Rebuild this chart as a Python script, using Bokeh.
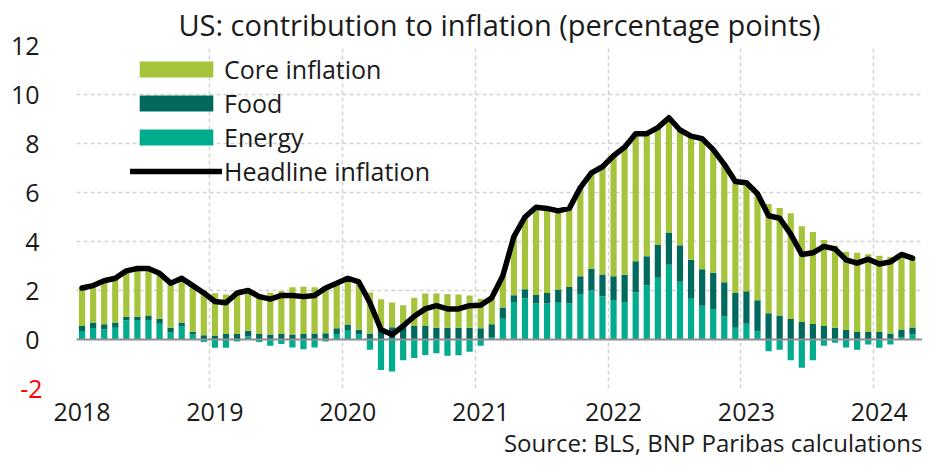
import numpy as np
from bokeh.plotting import figure
from bokeh.models import FixedTicker, Legend, LegendItem, Span, Range1d, LinearAxis, Title
from bokeh.embed import file_html
from bokeh.resources import INLINE

# ---------------- data ----------------
years = ["2018", "2019", "2020", "2021", "2022", "2023", "2024"]
y_ticks = [-2, 0, 2, 4, 6, 8, 10, 12]

energy = [0.35, 0.47, 0.41, 0.48, 0.79, 0.80, 0.80, 0.64, 0.29, 0.55, 0.20, -0.10,
          -0.34, -0.34, -0.08, 0.12, -0.10, -0.26, -0.18, -0.33, -0.40, -0.33, -0.08, 0.22,
          0.39, 0.20, -0.42, -1.24, -1.31, -0.85, -0.75, -0.63, -0.56, -0.66, -0.64, -0.50,
          -0.26, 0.10, 0.85, 1.53, 1.68, 1.47, 1.47, 1.53, 1.47, 1.86, 2.00, 1.77,
          1.61, 1.53, 1.93, 2.20, 2.52, 3.05, 2.36, 1.69, 1.38, 1.25, 0.94, 0.48,
          0.64, 0.33, -0.48, -0.42, -0.85, -1.15, -0.85, -0.26, -0.13, -0.33, -0.42, -0.20,
          -0.34, -0.20, 0.10, 0.20]

food = [0.20, 0.22, 0.21, 0.21, 0.13, 0.13, 0.18, 0.21, 0.19, 0.14, 0.12, 0.17,
        0.16, 0.22, 0.22, 0.24, 0.22, 0.20, 0.22, 0.20, 0.22, 0.24, 0.26, 0.24,
        0.22, 0.20, 0.24, 0.46, 0.50, 0.55, 0.55, 0.55, 0.48, 0.48, 0.48, 0.48,
        0.46, 0.52, 0.46, 0.28, 0.37, 0.35, 0.43, 0.51, 0.67, 0.72, 0.88, 0.88,
        0.97, 1.11, 1.26, 1.20, 1.34, 1.32, 1.49, 1.57, 1.49, 1.47, 1.40, 1.42,
        1.33, 1.27, 1.07, 0.98, 0.84, 0.71, 0.63, 0.55, 0.48, 0.39, 0.31, 0.31,
        0.31, 0.24, 0.29, 0.29]

core = [1.55, 1.51, 1.78, 1.81, 1.88, 1.97, 1.92, 1.85, 1.82, 1.81, 1.88, 1.83,
        1.73, 1.62, 1.76, 1.64, 1.63, 1.71, 1.76, 1.93, 1.93, 1.89, 1.92, 1.84,
        1.89, 1.95, 1.68, 1.18, 1.01, 0.85, 1.15, 1.33, 1.40, 1.38, 1.36, 1.32,
        1.20, 1.08, 1.29, 2.39, 2.95, 3.58, 3.45, 3.21, 3.21, 3.62, 3.92, 4.40,
        4.92, 5.21, 5.21, 5.00, 4.79, 4.68, 4.70, 5.04, 5.33, 5.03, 4.81, 4.55,
        4.43, 4.35, 4.46, 4.39, 4.31, 3.91, 3.76, 3.51, 3.35, 3.19, 3.23, 3.17,
        3.11, 3.13, 3.08, 2.83]

headline = [2.1, 2.2, 2.4, 2.5, 2.8, 2.9, 2.9, 2.7, 2.3, 2.5, 2.2, 1.9,
            1.55, 1.5, 1.9, 2.0, 1.75, 1.65, 1.8, 1.8, 1.75, 1.8, 2.1, 2.3,
            2.5, 2.35, 1.5, 0.4, 0.2, 0.55, 0.95, 1.25, 1.38, 1.25, 1.25, 1.38,
            1.4, 1.7, 2.6, 4.2, 5.0, 5.4, 5.35, 5.25, 5.35, 6.2, 6.8, 7.05,
            7.5, 7.85, 8.4, 8.4, 8.65, 9.05, 8.55, 8.3, 8.2, 7.75, 7.15, 6.45,
            6.4, 5.95, 5.05, 4.95, 4.3, 3.47, 3.54, 3.8, 3.7, 3.25, 3.12, 3.28,
            3.08, 3.17, 3.47, 3.32]

# ---------------- style ----------------
FONT = "Open Sans"
C_CORE = "#A5C33B"
C_FOOD = "#00695E"
C_ENERGY = "#00AB8E"
TXT = "#1a1a1a"
TICK_FS = "25px"

n = len(headline)
x = np.arange(n)
e = np.array(energy)
f = np.array(food)
c = np.array(core)
base = np.maximum(e, 0)
f_top = base + f
c_top = f_top + c

x_end = n - 0.1
p = figure(width=922, height=458, output_backend="svg", toolbar_location=None,
           x_range=Range1d(-0.5, x_end), y_range=Range1d(y_ticks[0], y_ticks[-1]),
           min_border_left=76, min_border_right=0, min_border_top=42, min_border_bottom=10)
p.outline_line_color = None
p.background_fill_color = "white"

p.title.text = "US: contribution to inflation (percentage points)"
p.title.text_font = FONT
p.title.text_font_size = "29px"
p.title.text_font_style = "normal"
p.title.text_color = TXT
p.title.align = "center"
p.title.standoff = 4

bw = 0.56
r_energy = p.vbar(x=x, bottom=0, top=e, width=bw, fill_color=C_ENERGY, line_color=None)
r_food = p.vbar(x=x, bottom=base, top=f_top, width=bw, fill_color=C_FOOD, line_color=None)
r_core = p.vbar(x=x, bottom=f_top, top=c_top, width=bw, fill_color=C_CORE, line_color=None)
r_line = p.line(x=x, y=headline, line_color="black", line_width=5.5, line_join="round", line_cap="round")

p.add_layout(Span(location=0, dimension="width", line_color="#8f8f8f", line_width=2))

# grids
p.ygrid.ticker = FixedTicker(ticks=y_ticks)
p.xgrid.ticker = FixedTicker(ticks=[12 * k - 0.5 for k in range(len(years))])
for g in (p.xgrid, p.ygrid):
    g.grid_line_color = "#d2d2d2"
    g.grid_line_dash = "4 3"
    g.grid_line_width = 1.5


def style_axis(ax, color=TXT):
    ax.axis_line_color = None
    ax.major_tick_line_color = None
    ax.minor_tick_line_color = None
    ax.major_tick_out = 0
    ax.major_tick_in = 0
    ax.minor_tick_out = 0
    ax.minor_tick_in = 0
    ax.major_label_text_font = FONT
    ax.major_label_text_font_size = TICK_FS
    ax.major_label_text_color = color


# inner left axis: the red negative tick label
p.yaxis.ticker = FixedTicker(ticks=y_ticks[:1])
p.yaxis.major_label_overrides = {y_ticks[0]: "-" + str(abs(y_ticks[0]))}
style_axis(p.yaxis[0], "red")
p.yaxis.major_label_standoff = 34

# outer left axis: black labels, pulled back to the same alignment
ax2 = LinearAxis(ticker=FixedTicker(ticks=y_ticks[1:]))
style_axis(ax2)
ax2.major_label_standoff = -22
p.add_layout(ax2, "left")

p.xaxis.ticker = FixedTicker(ticks=[12 * k for k in range(len(years))])
p.xaxis.major_label_overrides = {12 * k: yr for k, yr in enumerate(years)}
style_axis(p.xaxis[0])
p.xaxis.major_label_standoff = 14

src = Title(text="Source: BLS, BNP Paribas calculations", align="right",
            text_font=FONT, text_font_size="24px", text_font_style="normal",
            text_color=TXT, standoff=0, offset=0)
p.add_layout(src, "below")

legend = Legend(items=[LegendItem(label="Core inflation", renderers=[r_core]),
                       LegendItem(label="Food", renderers=[r_food]),
                       LegendItem(label="Energy", renderers=[r_energy]),
                       LegendItem(label="Headline inflation", renderers=[r_line])],
                location=(54, 200), glyph_width=92, glyph_height=20, label_standoff=2,
                spacing=0, padding=0, margin=0, label_text_font=FONT,
                label_text_font_size="25px", label_text_color=TXT,
                border_line_alpha=0, background_fill_alpha=0)
p.add_layout(legend)

open("out.html", "w").write(file_html(p, INLINE))
